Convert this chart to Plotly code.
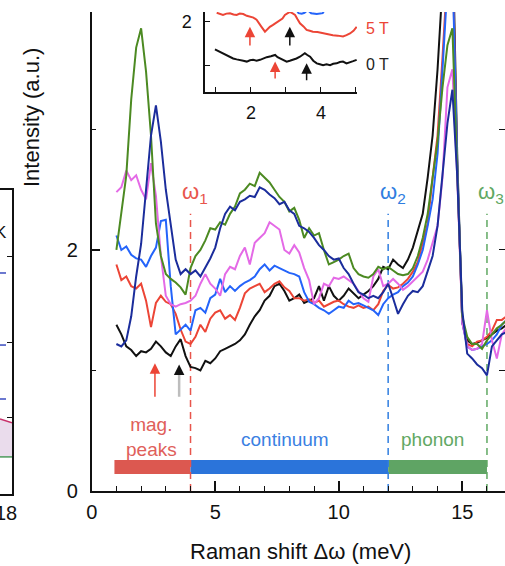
import numpy as np
import plotly.graph_objects as go

# ---------------- main panel data (Raman shift in meV, intensity in a.u.) ----------------
shift_mev = np.round(np.arange(1.0, 16.81, 0.2), 1)

int_black = [1.38, 1.30, 1.20, 1.17, 1.12, 1.16, 1.15, 1.18, 1.24, 1.20,
             1.15, 1.12, 1.20, 1.26, 1.12, 1.03, 1.02, 1.00, 1.08, 1.06,
             1.10, 1.16, 1.18, 1.20, 1.22, 1.25, 1.30, 1.38, 1.45, 1.50,
             1.58, 1.62, 1.70, 1.72, 1.66, 1.58, 1.60, 1.63, 1.56, 1.58,
             1.60, 1.70, 1.58, 1.70, 1.62, 1.58, 1.62, 1.68, 1.64, 1.60,
             1.63, 1.66, 1.70, 1.76, 1.86, 1.84, 1.92, 1.88, 1.85, 1.92,
             2.02, 2.15, 2.30, 2.60, 2.95, 3.50, 4.20, 4.60, 4.70, 2.75,
             1.40, 1.25, 1.22, 1.23, 1.25, 1.27, 1.30, 1.33, 1.35, 1.38]

int_red = [1.88, 1.75, 1.78, 1.70, 1.68, 1.72, 1.58, 1.36, 1.56, 1.62,
           1.57, 1.55, 1.47, 1.34, 1.24, 1.22, 1.28, 1.38, 1.32, 1.43,
           1.48, 1.50, 1.43, 1.46, 1.42, 1.52, 1.64, 1.68, 1.70, 1.72,
           1.65, 1.68, 1.72, 1.74, 1.69, 1.66, 1.60, 1.60, 1.58, 1.59,
           1.56, 1.58, 1.53, 1.55, 1.57, 1.58, 1.55, 1.53, 1.52, 1.54,
           1.52, 1.53, 1.50, 1.55, 1.66, 1.71, 1.68, 1.69, 1.72, 1.76,
           1.82, 1.90, 2.05, 2.22, 2.60, 2.95, 3.60, 4.30, 4.50, 2.65,
           1.40, 1.22, 1.20, 1.24, 1.25, 1.28, 1.33, 1.42, 1.42, 1.45]

int_blue = [2.12, 2.00, 2.03, 1.96, 1.93, 1.92, 1.86, 1.95, 2.02, 2.24,
            2.25, 1.70, 1.30, 1.34, 1.38, 1.33, 1.50, 1.52, 1.48, 1.60,
            1.63, 1.76, 1.65, 1.70, 1.66, 1.70, 1.73, 1.75, 1.78, 1.84,
            1.88, 1.83, 1.87, 1.85, 1.83, 1.81, 1.80, 1.78, 1.65, 1.57,
            1.55, 1.52, 1.50, 1.47, 1.50, 1.53, 1.52, 1.58, 1.55, 1.56,
            1.54, 1.52, 1.50, 1.46, 1.55, 1.60, 1.63, 1.65, 1.70, 1.73,
            1.78, 1.88, 2.00, 2.20, 2.42, 2.80, 3.50, 4.20, 4.40, 2.70,
            1.40, 1.20, 1.17, 1.18, 1.20, 1.22, 1.25, 1.30, 1.38, 1.42]

int_magenta = [2.48, 2.52, 2.66, 2.58, 2.62, 2.50, 2.42, 2.72, 2.45, 1.95,
               1.62, 1.55, 1.53, 1.55, 1.56, 1.58, 1.62, 1.72, 1.80, 1.72,
               1.68, 1.62, 1.80, 1.86, 1.84, 1.95, 2.02, 1.88, 2.06, 2.10,
               2.14, 2.23, 2.20, 2.17, 2.00, 1.97, 2.04, 1.98, 1.85, 1.75,
               1.55, 1.60, 1.72, 1.70, 1.77, 1.76, 1.78, 1.75, 1.72, 1.66,
               1.60, 1.57, 1.78, 1.84, 1.70, 1.72, 1.76, 1.72, 1.67, 1.70,
               1.74, 1.78, 1.82, 1.92, 2.05, 2.20, 2.60, 3.35, 3.50, 2.60,
               1.40, 1.20, 1.17, 1.18, 1.22, 1.50, 1.25, 1.10, 1.30, 1.36]

int_green = [2.00, 2.33, 2.62, 3.25, 3.68, 3.84, 3.48, 2.95, 2.22, 1.95,
             1.80, 1.76, 1.73, 1.69, 1.63, 1.85, 1.95, 2.00, 2.08, 2.18,
             2.17, 2.23, 2.21, 2.30, 2.36, 2.47, 2.50, 2.55, 2.53, 2.64,
             2.60, 2.56, 2.50, 2.44, 2.40, 2.32, 2.35, 2.25, 2.10, 2.18,
             2.12, 2.14, 2.00, 1.88, 1.90, 1.92, 1.95, 1.97, 1.85, 1.80,
             1.78, 1.77, 1.80, 1.86, 1.84, 1.86, 1.83, 1.80, 1.79, 1.80,
             1.85, 1.95, 2.10, 2.30, 2.60, 2.90, 3.35, 3.70, 3.84, 2.70,
             1.45, 1.28, 1.22, 1.22, 1.18, 1.25, 1.30, 1.35, 1.38, 1.42]

int_navy = [1.22, 1.20, 1.25, 1.45, 1.78, 2.05, 2.50, 2.95, 3.20, 2.90,
            2.50, 2.22, 1.92, 1.80, 1.84, 1.80, 1.83, 1.78, 1.85, 1.93,
            2.02, 2.18, 2.30, 2.36, 2.33, 2.40, 2.42, 2.45, 2.44, 2.52,
            2.50, 2.46, 2.43, 2.38, 2.40, 2.33, 2.30, 2.20, 2.18, 2.15,
            2.10, 2.04, 2.00, 1.95, 1.92, 1.93, 1.85, 1.80, 1.72, 1.65,
            1.63, 1.60, 1.62, 1.60, 1.65, 1.72, 1.60, 1.47, 1.55, 1.62,
            1.66, 1.65, 1.70, 1.82, 1.95, 2.20, 2.60, 3.05, 3.33, 2.60,
            1.50, 1.14, 1.10, 1.05, 1.02, 0.96, 1.20, 1.25, 1.30, 1.32]

curve_values = [int_black, int_red, int_blue, int_magenta, int_green, int_navy]
curve_colors = ["#111111", "#ec4536", "#2464fa", "#e46ae6", "#4c8a22", "#1b2d9c"]

# characteristic energies and spectral regions
omega_pos = [4, 12, 16]
omega_names = ["ω<sub>1</sub>", "ω<sub>2</sub>", "ω<sub>3</sub>"]
omega_colors = ["#e8554c", "#2f7de0", "#5fa862"]
omega_line_top = 2.3

region_start = [0.92, 4, 12]
region_end = [4, 12, 16]
region_names = ["mag.<br>peaks", "continuum", "phonon"]
region_colors = ["#dc5850", "#2b74da", "#5fa464"]
region_text_colors = ["#e0605a", "#3a80e2", "#62a864"]
region_bar_y = 0.2

# arrows marking the magnetic peaks (x, tip, tail)
arrow_red = (2.56, 1.06, 0.77)
arrow_black = (3.54, 1.05, 0.77)

# ---------------- inset data ----------------
inset_5t_x = [1.02, 1.12, 1.2, 1.3, 1.4, 1.5, 1.59, 1.68, 1.78, 1.88, 1.97, 2.07, 2.16, 2.23, 2.3, 2.4,
              2.47, 2.54, 2.62, 2.69, 2.76, 2.83, 2.9, 2.97, 3.04, 3.11, 3.18, 3.26, 3.33, 3.4, 3.5,
              3.59, 3.68, 3.77, 3.9, 4.06, 4.2, 4.34, 4.48, 4.63, 4.73, 4.83, 4.93, 5.02]
inset_5t_y = [2.21, 2.18, 2.16, 2.19, 2.2, 2.17, 2.16, 2.19, 2.18, 2.14, 2.12, 2.1, 2.05, 1.96, 1.89, 1.78,
              1.84, 1.89, 1.93, 1.97, 1.99, 2.05, 2.08, 2.16, 2.19, 2.23, 2.2, 2.16, 2.06, 1.97, 1.9,
              1.82, 1.8, 1.78, 1.77, 1.74, 1.73, 1.7, 1.69, 1.67, 1.7, 1.74, 1.8, 1.89]

inset_0t_x = [0.97, 1.04, 1.11, 1.2, 1.3, 1.4, 1.49, 1.59, 1.69, 1.78, 1.88, 1.97, 2.06, 2.16, 2.26, 2.35,
              2.45, 2.57, 2.69, 2.76, 2.83, 2.92, 3.02, 3.11, 3.2, 3.3, 3.4, 3.47, 3.54, 3.61, 3.69,
              3.78, 3.88, 3.97, 4.06, 4.16, 4.26, 4.35, 4.45, 4.54, 4.63, 4.73, 4.83, 4.92, 5.02]
inset_0t_y = [1.38, 1.35, 1.33, 1.29, 1.25, 1.2, 1.17, 1.15, 1.14, 1.12, 1.1, 1.13, 1.14, 1.12, 1.14, 1.17,
              1.2, 1.22, 1.25, 1.2, 1.17, 1.13, 1.1, 1.12, 1.14, 1.17, 1.21, 1.26, 1.29, 1.25, 1.21,
              1.12, 1.06, 1.04, 1.02, 1.04, 1.02, 1.05, 1.06, 1.09, 1.1, 1.06, 1.08, 1.11, 1.14]

inset_hi_x = [3.2, 3.3, 3.36, 3.45, 3.53, 3.62, 3.72, 3.88, 4.05, 4.2]
inset_hi_y = [2.4, 2.26, 2.2, 2.19, 2.21, 2.27, 2.2, 2.18, 2.2, 2.4]

# inset arrows (x, tip, tail)
inset_arrows = [(1.97, 1.89, 1.43, "#ec4536"), (3.11, 1.89, 1.43, "#111111"),
                (2.69, 1.10, 0.68, "#ec4536"), (3.59, 1.06, 0.64, "#111111")]
inset_labels = ["5 T", "0 T"]
inset_label_colors = ["#ec4536", "#222222"]

# ---------------- neighbouring panel fragment (left) ----------------
left_x = [17.3, 18.7]
left_upper = [0.247, 0.234]
left_lower = [0.122, 0.122]
left_marks_y = [0.727, 0.49, 0.3125]

FONT = "Liberation Sans, Arial, Helvetica, sans-serif"
INK = "#111111"

fig = go.Figure()

# dashed markers of the characteristic energies
for xv, col in zip(omega_pos, omega_colors):
    fig.add_trace(go.Scatter(x=[xv, xv], y=[0, omega_line_top], mode="lines",
                             line=dict(color=col, width=1.5, dash="7px,5px"),
                             hoverinfo="skip", xaxis="x", yaxis="y"))

# coloured bars of the spectral regions
fig.add_trace(go.Bar(y=[region_bar_y] * 3,
                     x=[e - s for s, e in zip(region_start, region_end)],
                     base=region_start, orientation="h", width=0.116,
                     marker=dict(color=region_colors, line=dict(width=0)),
                     xaxis="x", yaxis="y"))

# spectra
for vals, col in zip(curve_values, curve_colors):
    fig.add_trace(go.Scatter(x=shift_mev, y=vals, mode="lines",
                             line=dict(color=col, width=2), xaxis="x", yaxis="y"))

# inset spectra
fig.add_trace(go.Scatter(x=inset_hi_x, y=inset_hi_y, mode="lines",
                         line=dict(color="#2464fa", width=2), xaxis="x2", yaxis="y2"))
fig.add_trace(go.Scatter(x=inset_5t_x, y=inset_5t_y, mode="lines",
                         line=dict(color="#ec4536", width=2), xaxis="x2", yaxis="y2"))
fig.add_trace(go.Scatter(x=inset_0t_x, y=inset_0t_y, mode="lines",
                         line=dict(color=INK, width=2), xaxis="x2", yaxis="y2"))

# left panel fragment
fig.add_trace(go.Scatter(x=left_x, y=left_lower, mode="lines",
                         line=dict(color="#4d9a5c", width=1.5), xaxis="x3", yaxis="y3"))
fig.add_trace(go.Scatter(x=left_x, y=left_upper, mode="lines", fill="tonexty",
                         fillcolor="#eadcec", line=dict(color="#c8306a", width=1.5),
                         xaxis="x3", yaxis="y3"))
fig.add_trace(go.Scatter(x=[17.35] * 3, y=left_marks_y, mode="markers",
                         marker=dict(symbol="line-ew", size=8, line=dict(color="#3b4cc0", width=1.5)),
                         xaxis="x3", yaxis="y3"))

# placeholder for the tick stub of the next panel
fig.add_trace(go.Scatter(x=[None], y=[None], xaxis="x", yaxis="y4"))

ann = []
for xv, name, col in zip(omega_pos, omega_names, omega_colors):
    ann.append(dict(x=xv - 0.43, y=2.47, xref="x", yref="y", text=name, showarrow=False,
                    xanchor="left", yanchor="middle", font=dict(size=22, color=col, family=FONT)))

region_label_pos = [(2.44, 0.45), (7.83, 0.43), (13.8, 0.43)]
for (xv, yv), name, col in zip(region_label_pos, region_names, region_text_colors):
    ann.append(dict(x=xv, y=yv, xref="x", yref="y", text=name, showarrow=False,
                    xanchor="center", yanchor="middle",
                    font=dict(size=19, color=col, family=FONT)))

# main arrows
xr, tip, tail = arrow_red
ann.append(dict(x=xr, y=tip, ax=xr, ay=tail, xref="x", yref="y", axref="x", ayref="y",
                text="", showarrow=True, arrowhead=2, arrowsize=1.4, arrowwidth=1.5,
                arrowcolor="#ec4536"))
xb, tip, tail = arrow_black
ann.append(dict(x=xb, y=tip - 0.07, ax=xb, ay=tail, xref="x", yref="y", axref="x", ayref="y",
                text="", showarrow=True, arrowhead=0, arrowwidth=2.5, arrowcolor="#bdbdbd"))
ann.append(dict(x=xb, y=tip, ax=xb, ay=tip - 0.08, xref="x", yref="y", axref="x", ayref="y",
                text="", showarrow=True, arrowhead=2, arrowsize=1.4, arrowwidth=1.5,
                arrowcolor=INK))

# inset arrows and labels
for xv, tip, tail, col in inset_arrows:
    ann.append(dict(x=xv, y=tip, ax=xv, ay=tail, xref="x2", yref="y2", axref="x2", ayref="y2",
                    text="", showarrow=True, arrowhead=2, arrowsize=1.4, arrowwidth=1.5,
                    arrowcolor=col))
for name, col, ypx in zip(inset_labels, inset_label_colors, [28, 64]):
    ann.append(dict(x=364 / 505, y=1 - ypx / 566, xref="paper", yref="paper", text=name,
                    showarrow=False, xanchor="left", yanchor="middle",
                    font=dict(size=16, color=col, family=FONT)))

# left fragment letter
ann.append(dict(x=9 / 505, y=1 - 232 / 566, xref="paper", yref="paper", text="K",
                showarrow=False, xanchor="right", yanchor="middle",
                font=dict(size=17, color=INK, family=FONT)))

# axis titles
ann.append(dict(x=300 / 505, y=1 - 551 / 566, xref="paper", yref="paper",
                text="Raman shift Δω (meV)", showarrow=False,
                xanchor="center", yanchor="middle",
                font=dict(size=22, color=INK, family=FONT)))
ann.append(dict(x=31 / 505, y=1 - 118 / 566, xref="paper", yref="paper",
                text="Intensity (a.u.)", showarrow=False, textangle=-90,
                xanchor="center", yanchor="middle",
                font=dict(size=22, color=INK, family=FONT)))

axis_common = dict(showgrid=False, zeroline=False, linecolor=INK, tickcolor=INK,
                   automargin=False)

fig.update_layout(
    width=505, height=566, margin=dict(l=0, r=0, t=0, b=0, autoexpand=False),
    paper_bgcolor="white", plot_bgcolor="rgba(0,0,0,0)", showlegend=False,
    font=dict(family=FONT, size=20, color=INK),
    annotations=ann,
    xaxis=dict(domain=[91.7 / 505, 1], range=[0, 16.73], anchor="y",
               showline=True, linewidth=1.5, ticks="inside", ticklen=10, tickwidth=1.5,
               tick0=0, dtick=5, ticklabelstandoff=2,
               minor=dict(ticks="inside", ticklen=5, tickwidth=1.2, dtick=1, tickcolor=INK),
               tickfont=dict(size=20), **axis_common),
    yaxis=dict(domain=[75 / 566, 554 / 566], range=[0, 3.975], anchor="x",
               showline=True, linewidth=1.5, ticks="inside", ticklen=9, tickwidth=1.5,
               tick0=0, dtick=2, ticklabelstandoff=8,
               minor=dict(ticks="inside", ticklen=5, tickwidth=1.2, dtick=1, tickcolor=INK),
               tickfont=dict(size=20), **axis_common),
    xaxis2=dict(domain=[205 / 505, 357 / 505], range=[0.686, 5.03], anchor="y2",
                showline=True, linewidth=1.5, ticks="inside", ticklen=5, tickwidth=1.2,
                tickvals=[1, 2, 3, 4, 5], ticktext=["", "2", "", "4", ""], ticklabelstandoff=4,
                tickfont=dict(size=18), **axis_common),
    yaxis2=dict(domain=[474 / 566, 554 / 566], range=[0.409, 2.227], anchor="x2",
                showline=True, linewidth=1.5, ticks="inside", ticklen=5, tickwidth=1.2,
                tickvals=[1, 2], ticktext=["", "2"], ticklabelstandoff=8,
                tickfont=dict(size=18), **axis_common),
    xaxis3=dict(domain=[0, 12 / 505], range=left_x, anchor="y3", showline=True, mirror=True,
                linewidth=1.5, ticks="", tickvals=[18], ticklabelstandoff=0,
                ticklabeloverflow="allow", tickfont=dict(size=20), **axis_common),
    yaxis3=dict(domain=[72 / 566, 376 / 566], range=[0, 1], anchor="x3", side="right",
                showline=True, linewidth=1.5, ticks="inside", ticklen=5, tickwidth=1.2,
                tickvals=[0.253, 0.5, 0.78], showticklabels=False, **axis_common),
    yaxis4=dict(overlaying="y", anchor="free", position=1.0, side="left", range=[0, 3.975],
                showline=False, ticks="outside", ticklen=6, tickwidth=1.2,
                tickvals=[1, 2, 3], showticklabels=False, **axis_common),
)

fig.write_html("out.html")
